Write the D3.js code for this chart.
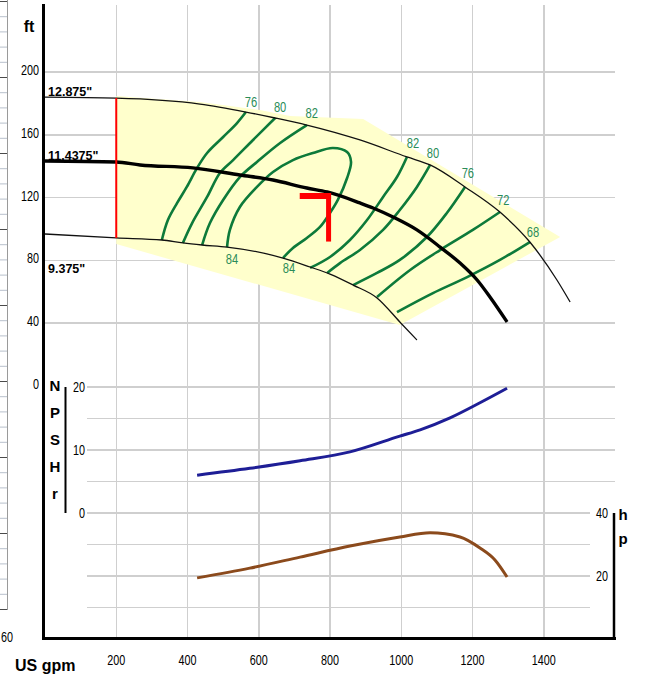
<!DOCTYPE html>
<html>
<head>
<meta charset="utf-8">
<script src="https://cdn.jsdelivr.net/npm/d3@7"></script>
<style>
  body { margin: 0; background: #fff; }
  svg { display: block; }
</style>
</head>
<body>
<svg id="chart" width="645" height="676"></svg>
<script>
// ---- Axis ticks ----
const flowTicks = [200, 400, 600, 800, 1000, 1200, 1400];
const headTicks = [0, 40, 80, 120, 160, 200];
const npshTicks = [0, 10, 20];
const npshGrid = [0, 5, 10, 15, 20];
const hpTicks = [20, 40];
const hpGrid = [10, 20, 30];

// ---- Impeller head curves: [flow gpm, head ft] ----
const imp12875 = [[0,184],[200,183.4],[435,179.6],[564,174.5],[646,170.7],[735,166.2],[884,156.7],
  [1016,145.9],[1081,140.8],[1179,126.8],[1277,110.8],[1361,91.7],[1437,67.5],[1474,53.5]];
const imp114375 = [[0,143.3],[200,142.7],[267,140.8],[415,138.9],[547,134.4],[640,131.2],[735,126.1],
  [792,123.6],[884,116.6],[921,113.4],[977,107.6],[1044,99.4],[1109,88.5],[1165,78.3],[1213,67.5],
  [1249,56.7],[1297,40.8]];
const imp9375 = [[0,96.8],[200,94.3],[328,93.0],[387,91.1],[441,89.8],[511,88.5],[668,81.5],
  [744,75.8],[800,71.3],[865,64.3],[932,56.1],[996,40.8],[1044,29.3]];
const impellerLabels = ['12.875"', '11.4375"', '9.375"'];
const impellerLabelHeads = [188, 147, 75];

// ---- Allowable operating region ----
const operatingRegion = [[200,184.7],[435,180.9],[603,175.8],[688,172],[893,170.1],
  [1446,94.9],[996,38.9],[200,90.4]];
const minFlow = 200;

// ---- Efficiency contours (%) ----
const eff76Left = [[564,174.5],[539,167.5],[500,158.6],[455,148.4],[427,138.9],[398,126.8],[371,116.6],[345,105.7],[328,93]];
const eff80Left = [[646,170.7],[584,156.7],[528,143.9],[491,135.7],[455,120.4],[413,103.8],[387,91.1]];
const eff82Left = [[735,166.2],[660,154.8],[595,142.7],[547,133.1],[500,118.5],[463,103.8],[441,89.8]];
const eff84 = [[511,88.5],[519,99.4],[547,114],[595,126.8],[640,136.3],[696,143.9],[752,148.4],[808,151.6],
  [848,149],[859,142.7],[848,132.5],[822,118.5],[800,110.2],[772,101.3],[735,94.3],[696,87.9],[668,81.5]];
const eff82Right = [[1016,145.9],[988,133.1],[949,120.4],[904,105.7],[856,93],[800,82.2],[744,75.2]];
const eff80Right = [[1081,140.8],[1044,126.8],[996,112.1],[949,99.4],[884,86.6],[828,78.3],[792,72]];
const eff76Right = [[1179,126.8],[1128,110.2],[1072,94.9],[996,80.3],[932,72],[865,64.3]];
const eff72Right = [[1277,110.8],[1201,99.4],[1109,86.6],[1025,73.9],[932,56.7]];
const eff68Right = [[1361,91.7],[1277,80.3],[1185,69.4],[1089,59.2],[988,47.1]];
const effContours = [eff76Left, eff80Left, eff82Left, eff84, eff82Right, eff80Right, eff76Right, eff72Right, eff68Right];

// efficiency label text and anchor (flow, head)
const effLabelText = ['76','80','82','84','84','82','80','76','72','68'];
const effLabelFlow = [578, 660, 749, 525, 685, 1033, 1089, 1187, 1286, 1370];
const effLabelHead = [181.5, 178.3, 173.9, 81.5, 75.2, 154.8, 149.0, 136.3, 118.5, 98.1];

// ---- Duty point ----
const dutyFlow = 796;
const dutyHead = 121;
const dutyLeadFlow = 715;
const dutyDropHead = 92;

// ---- NPSHr (ft) and power (hp) ----
const npshFlow = [427, 575, 716, 856, 996, 1053, 1137, 1221, 1297];
const npshValue = [6.0, 7.1, 8.3, 9.7, 12.2, 13.2, 15.1, 17.5, 19.8];
const hpFlow = [427, 575, 716, 856, 996, 1081, 1165, 1221, 1263, 1297];
const hpValue = [19.4, 22.5, 26.0, 29.5, 32.4, 33.7, 32.4, 28.9, 25.1, 19.7];

// ---- Fonts / colours ----
const SANS = "'Liberation Sans',Arial,sans-serif";
const GRID = '#cfcfcf';
const GREEN = '#0d7a3a';
const GREEN_TXT = '#2a8c58';
const SQUEEZE = 0.72;   // horizontal compression for the narrow numerals

const svg = d3.select('#chart');

// ---- Scales ----
const x = d3.scaleLinear().domain([0, 1600]).range([45, 615]);
const yHead = d3.scaleLinear().domain([0, 200]).range([386, 72]);
const yNpsh = d3.scaleLinear().domain([0, 20]).range([513, 387]);
const yHp = d3.scaleLinear().domain([0, 40]).range([639, 513]);
const ruler = d3.scaleLinear().domain([0, 40]).range([609, 1]);

// narrow numeral text placed by translate + horizontal squeeze
function narrow(sel, fx, fy, anchor, size) {
  return sel.attr('transform', (d, i) => `translate(${fx(d, i)},${fy(d, i)}) scale(${SQUEEZE},1)`)
    .attr('text-anchor', anchor)
    .attr('font-family', SANS)
    .attr('font-size', size);
}

// ---- Ruler strip on the far left ----
const rulerG = svg.append('g');
rulerG.selectAll('line.rt').data(d3.range(0, 41)).join('line')
  .attr('x1', 0).attr('x2', 7)
  .attr('y1', d => ruler(d) + 0.5).attr('y2', d => ruler(d) + 0.5)
  .attr('stroke', d => d % 5 === 0 ? '#4a4a4a' : '#b8c0cc')
  .attr('stroke-width', 1);
rulerG.append('line').attr('x1', 7.5).attr('x2', 7.5).attr('y1', 0).attr('y2', ruler(0) + 1)
  .attr('stroke', '#9a9a9a');
narrow(rulerG.selectAll('text').data(['60']).join('text'), () => 1, () => 642, 'start', 15).text(d => d);

// ---- Grid ----
const grid = svg.append('g').attr('shape-rendering', 'crispEdges');
grid.selectAll('line.v').data(flowTicks).join('line')
  .attr('x1', d => x(d)).attr('x2', d => x(d)).attr('y1', 5).attr('y2', 637)
  .attr('stroke', GRID).attr('stroke-width', 1.5);
grid.selectAll('line.h').data(headTicks.filter(d => d > 0)).join('line')
  .attr('x1', x(0)).attr('x2', x(1600)).attr('y1', d => yHead(d)).attr('y2', d => yHead(d))
  .attr('stroke', GRID).attr('stroke-width', 1.5);
grid.selectAll('line.n').data(npshGrid).join('line')
  .attr('x1', 87).attr('x2', d => d === 0 ? 590 : x(1600)).attr('y1', d => yNpsh(d)).attr('y2', d => yNpsh(d))
  .attr('stroke', GRID).attr('stroke-width', 1.5);
grid.selectAll('line.p').data(hpGrid).join('line')
  .attr('x1', 87).attr('x2', 590).attr('y1', d => yHp(d)).attr('y2', d => yHp(d))
  .attr('stroke', GRID).attr('stroke-width', 1.5);

// ---- Operating region ----
svg.append('path')
  .attr('d', d3.line().x(d => x(d[0])).y(d => yHead(d[1]))(operatingRegion) + 'Z')
  .attr('fill', '#ffffcc').attr('stroke', 'none');

// ---- Efficiency contours ----
const effLine = d3.line().x(d => x(d[0])).y(d => yHead(d[1])).curve(d3.curveCatmullRom.alpha(0.5));
svg.append('g').selectAll('path').data(effContours).join('path')
  .attr('d', effLine).attr('fill', 'none').attr('stroke', GREEN).attr('stroke-width', 2.6);

// ---- Impeller curves ----
const headLine = d3.line().x(d => x(d[0])).y(d => yHead(d[1])).curve(d3.curveMonotoneX);
svg.append('path').attr('d', headLine(imp12875)).attr('fill', 'none').attr('stroke', '#111').attr('stroke-width', 1.3);
svg.append('path').attr('d', headLine(imp9375)).attr('fill', 'none').attr('stroke', '#111').attr('stroke-width', 1.3);
svg.append('path').attr('d', headLine(imp114375)).attr('fill', 'none').attr('stroke', '#000').attr('stroke-width', 3.4);

// ---- Minimum flow line ----
svg.append('line')
  .attr('x1', x(minFlow)).attr('x2', x(minFlow))
  .attr('y1', yHead(imp12875[1][1])).attr('y2', yHead(imp9375[1][1]))
  .attr('stroke', '#ff0000').attr('stroke-width', 2);

// ---- Duty point marker ----
svg.append('line')
  .attr('x1', x(dutyLeadFlow)).attr('x2', x(dutyFlow) + 2.5)
  .attr('y1', yHead(dutyHead)).attr('y2', yHead(dutyHead))
  .attr('stroke', '#ff0000').attr('stroke-width', 6);
svg.append('line')
  .attr('x1', x(dutyFlow)).attr('x2', x(dutyFlow))
  .attr('y1', yHead(dutyHead) - 3).attr('y2', yHead(dutyDropHead))
  .attr('stroke', '#ff0000').attr('stroke-width', 5);

// ---- Efficiency labels ----
narrow(svg.append('g').selectAll('text').data(effLabelText).join('text'),
  (d, i) => x(effLabelFlow[i]), (d, i) => yHead(effLabelHead[i]) + 5.5, 'middle', 15.5)
  .attr('fill', GREEN_TXT).text(d => d);

// ---- Impeller labels ----
svg.append('g').selectAll('text').data(impellerLabels).join('text')
  .attr('x', 48).attr('y', (d, i) => yHead(impellerLabelHeads[i]) + 5)
  .attr('font-family', SANS).attr('font-weight', 'bold').attr('font-size', 12.5)
  .attr('fill', '#000').text(d => d);

// ---- NPSHr and power curves ----
const npshLine = d3.line().x((d, i) => x(npshFlow[i])).y(d => yNpsh(d)).curve(d3.curveMonotoneX);
svg.append('path').attr('d', npshLine(npshValue)).attr('fill', 'none')
  .attr('stroke', '#1e1e96').attr('stroke-width', 3);
const hpLine = d3.line().x((d, i) => x(hpFlow[i])).y(d => yHp(d)).curve(d3.curveMonotoneX);
svg.append('path').attr('d', hpLine(hpValue)).attr('fill', 'none')
  .attr('stroke', '#8b4a1c').attr('stroke-width', 3);

// ---- Frame / axes ----
svg.append('line').attr('x1', 43.5).attr('x2', 43.5).attr('y1', 4).attr('y2', 640)
  .attr('stroke', '#000').attr('stroke-width', 3);
svg.append('line').attr('x1', 42).attr('x2', 616).attr('y1', 638.5).attr('y2', 638.5)
  .attr('stroke', '#000').attr('stroke-width', 3);
svg.append('line').attr('x1', 614).attr('x2', 614).attr('y1', yHp(40)).attr('y2', 640)
  .attr('stroke', '#000').attr('stroke-width', 2.5);
svg.append('line').attr('x1', 65.5).attr('x2', 65.5).attr('y1', yNpsh(20)).attr('y2', yNpsh(0))
  .attr('stroke', '#000').attr('stroke-width', 2);

// ---- Tick labels ----
const tick = svg.append('g').attr('fill', '#000');
narrow(tick.selectAll('text.h').data(headTicks).join('text').attr('class', 'h'),
  () => 39, d => yHead(d) + 3, 'end', 15).text(d => d);
narrow(tick.selectAll('text.x').data(flowTicks).join('text').attr('class', 'x'),
  d => x(d), () => 665, 'middle', 15).text(d => d);
narrow(tick.selectAll('text.n').data(npshTicks).join('text').attr('class', 'n'),
  () => 85, d => yNpsh(d) + 5, 'end', 15).text(d => d);
narrow(tick.selectAll('text.p').data(hpTicks).join('text').attr('class', 'p'),
  () => 608, d => yHp(d) + 5, 'end', 15).text(d => d);

// ---- Axis titles ----
const title = svg.append('g').attr('font-family', SANS).attr('font-weight', 'bold').attr('fill', '#000');
title.append('text').attr('x', 29).attr('y', 32).attr('text-anchor', 'middle').attr('font-size', 16).text('ft');
title.append('text').attr('x', 15).attr('y', 671).attr('font-size', 16).text('US gpm');
title.selectAll('text.npsh').data(['N', 'P', 'S', 'H', 'r']).join('text')
  .attr('x', 55).attr('y', (d, i) => 391 + i * 27).attr('text-anchor', 'middle').attr('font-size', 15).text(d => d);
title.selectAll('text.hp').data(['h', 'p']).join('text')
  .attr('x', 623).attr('y', (d, i) => 520 + i * 24).attr('text-anchor', 'middle').attr('font-size', 15).text(d => d);
</script>
</body>
</html>
